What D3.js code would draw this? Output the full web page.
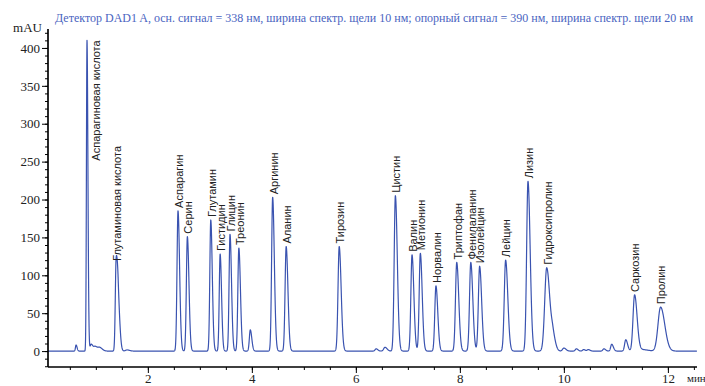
<!DOCTYPE html>
<html>
<head>
<meta charset="utf-8">
<script src="https://cdn.jsdelivr.net/npm/d3@7"></script>
<style>
  body { margin: 0; background: #fff; }
  svg { display: block; }
  .serif { font-family: 'Liberation Serif', 'Times New Roman', serif; }
</style>
</head>
<body>
<script>
// labelled peaks: name, retention time (min), height (mAU), sigma (min)
var peakNames = ["Аспарагиновая кислота", "Глутаминовая кислота", "Аспарагин", "Серин",
  "Глутамин", "Гистидин", "Глицин", "Треонин", "Аргинин", "Аланин", "Тирозин", "Цистин",
  "Валин", "Метионин", "Норвалин", "Триптофан", "Фенилаланин", "Изолейцин", "Лейцин",
  "Лизин", "Гидроксипролин", "Саркозин", "Пролин"];
var peakTimes = [0.83, 1.39, 2.58, 2.76, 3.21, 3.39, 3.58, 3.75, 4.40, 4.66, 5.68, 6.76,
  7.08, 7.24, 7.54, 7.94, 8.21, 8.38, 8.88, 9.31, 9.67, 11.36, 11.86];
var peakHeights = [410, 115, 185, 151, 173, 128, 154, 136, 203, 138, 138, 205,
  127, 129, 86, 117, 117, 112, 120, 224, 110, 74, 58];
var peakWidths = [0.011, 0.016, 0.019, 0.019, 0.018, 0.017, 0.018, 0.019, 0.02, 0.021, 0.023, 0.023,
  0.022, 0.022, 0.022, 0.024, 0.024, 0.024, 0.026, 0.026, 0.038, 0.03, 0.05];

// unlabelled small peaks and shoulders
var minorTimes = [0.62, 0.91, 0.99, 1.08, 1.43, 1.60, 3.97, 6.39, 6.56, 9.79, 10.0,
  10.24, 10.38, 10.47, 10.77, 10.92, 11.19, 11.5];
var minorHeights = [8, 9, 6, 4, 60, 1.5, 28, 3, 5, 17, 4, 3, 2, 2, 3, 9, 15, 2];
var minorWidths = [0.012, 0.02, 0.03, 0.03, 0.02, 0.03, 0.018, 0.02, 0.025, 0.03, 0.025,
  0.02, 0.02, 0.02, 0.02, 0.02, 0.022, 0.07];

var yTicks = [0, 50, 100, 150, 200, 250, 300, 350, 400];
var xTicks = [2, 4, 6, 8, 10, 12];
var title = "Детектор DAD1 A, осн. сигнал = 338 нм, ширина спектр. щели 10 нм; опорный сигнал = 390 нм, ширина спектр. щели 20 нм";

var width = 705, height = 386;
var plotLeft = 48, plotRight = 697, plotTop = 29, plotBottom = 367;
var lineColour = "#3a53b0";

var svg = d3.select("body").append("svg")
  .attr("width", width)
  .attr("height", height);

var x = d3.scaleLinear().domain([0.08, 12.56]).range([plotLeft, plotRight]);
var y = d3.scaleLinear().domain([-21, 425]).range([plotBottom, plotTop]);

// build the trace from the peak table (tailing gaussians)
var peaks = [];
peakTimes.forEach(function(t, i) { peaks.push({t: t, h: peakHeights[i], s: peakWidths[i]}); });
minorTimes.forEach(function(t, i) { peaks.push({t: t, h: minorHeights[i], s: minorWidths[i]}); });

function signal(t) {
  var v = 0;
  peaks.forEach(function(p) {
    var s = t < p.t ? p.s : p.s * 1.6;
    var z = (t - p.t) / s;
    if (Math.abs(z) < 8) v += p.h * Math.exp(-0.5 * z * z);
  });
  return v;
}

var trace = d3.range(0.08, 12.56, 0.002).map(function(t) { return [t, signal(t)]; });
// make sure apexes are hit exactly
peakTimes.forEach(function(t) { trace.push([t, signal(t)]); });
trace.sort(function(a, b) { return a[0] - b[0]; });

svg.append("path")
  .datum(trace)
  .attr("fill", "none")
  .attr("stroke", lineColour)
  .attr("stroke-width", 1.2)
  .attr("stroke-linejoin", "round")
  .attr("d", d3.line().x(function(d) { return x(d[0]); }).y(function(d) { return y(d[1]); }));

// y axis
var yAxis = svg.append("g").attr("transform", "translate(" + plotLeft + ",0)");
yAxis.call(d3.axisLeft(y).tickValues(d3.range(-20, 421, 10)).tickSize(3).tickFormat(""));
yAxis.append("g").call(d3.axisLeft(y).tickValues(yTicks).tickSize(6).tickPadding(2));
yAxis.selectAll("path.domain").attr("d", "M0," + plotTop + "V" + plotBottom).attr("stroke-width", 1.2);

// x axis
var xAxis = svg.append("g").attr("transform", "translate(0," + plotBottom + ")");
xAxis.call(d3.axisBottom(x).tickValues(d3.range(0.5, 12.6, 0.5)).tickSize(3).tickFormat(""));
xAxis.append("g").call(d3.axisBottom(x).tickValues(xTicks).tickSize(6).tickPadding(1).tickFormat(d3.format("d")));
xAxis.selectAll("path.domain").attr("d", "M" + plotLeft + ",0H" + plotRight).attr("stroke-width", 1.2);

svg.selectAll("g text")
  .attr("class", "serif")
  .attr("font-family", null)
  .style("font-size", "13px")
  .attr("fill", "#222");

svg.append("text")
  .attr("class", "serif")
  .attr("x", 42).attr("y", 32)
  .attr("text-anchor", "end")
  .style("font-size", "13px")
  .attr("fill", "#222")
  .text("mAU");

svg.append("text")
  .attr("class", "serif")
  .attr("x", 687).attr("y", 382)
  .style("font-size", "11px")
  .attr("fill", "#222")
  .text("мин");

svg.append("text")
  .attr("class", "serif")
  .attr("x", 55).attr("y", 22)
  .style("font-size", "12px")
  .attr("fill", "#4a64bf")
  .text(title);

// peak labels, rotated; pushed aside when they would run off the top
var labels = svg.append("g")
  .attr("font-family", "'Liberation Sans', Arial, sans-serif")
  .attr("font-size", 11)
  .attr("fill", "#222");

peakNames.forEach(function(name, i) {
  var px = x(peakTimes[i]), py = y(peakHeights[i]) - 3;
  var lab = labels.append("text")
    .attr("dy", "0.35em")
    .text(name);
  var len = lab.node().getComputedTextLength();
  if (py - len < plotTop + 8) {
    py = y(peakHeights[i]) + len;
    px = px + 9;
  } else {
    px = px + 1;
  }
  lab.attr("transform", "translate(" + px + "," + py + ") rotate(-90)");
});
</script>
</body>
</html>
